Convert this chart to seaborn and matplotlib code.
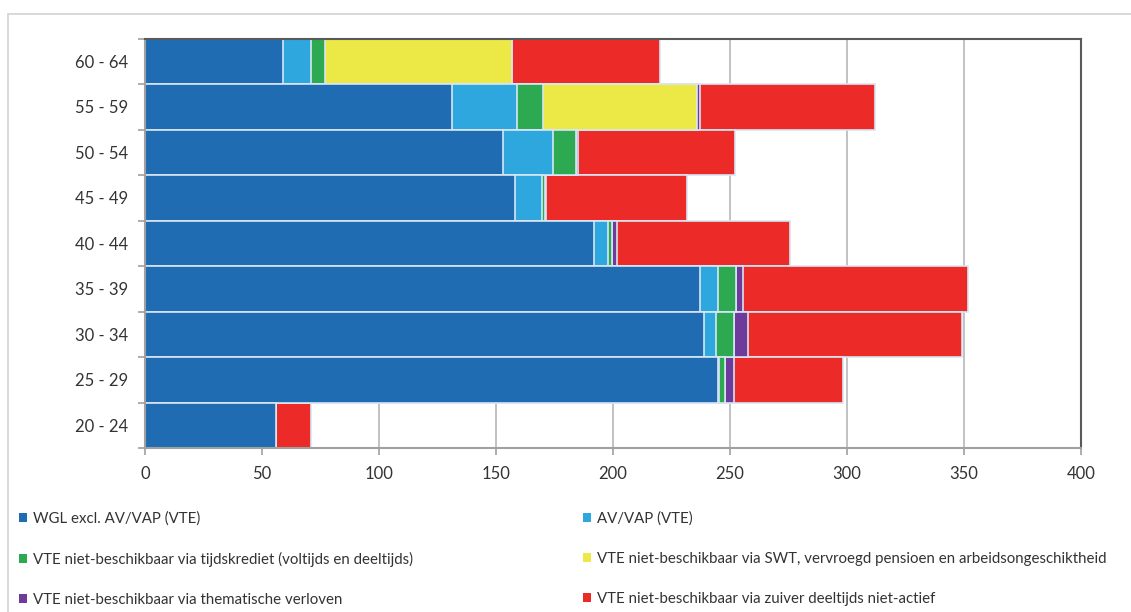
import matplotlib
matplotlib.use("Agg")
import matplotlib.pyplot as plt
import seaborn as sns
import pandas as pd
import numpy as np
from matplotlib.patches import Patch, Rectangle

categories = ["60 - 64", "55 - 59", "50 - 54", "45 - 49", "40 - 44",
              "35 - 39", "30 - 34", "25 - 29", "20 - 24"]
wgl = [59, 131, 153, 158, 192, 237, 239, 245, 56]
av_vap = [12, 28, 21.5, 11.5, 6, 8, 5, 0.5, 0]
tijdskrediet = [6, 11, 9.5, 1.5, 1.5, 7.5, 7.5, 2.5, 0]
swt = [80, 66, 0, 0, 0, 0, 0, 0, 0]
thematisch = [0, 1, 1, 0.5, 2, 3, 6, 3.5, 0]
zuiver = [63, 75, 67, 60, 74, 96, 91.5, 47, 15]

series_labels = [
    "WGL excl. AV/VAP (VTE)",
    "AV/VAP (VTE)",
    "VTE niet-beschikbaar via tijdskrediet (voltijds en deeltijds)",
    "VTE niet-beschikbaar via SWT, vervroegd pensioen en arbeidsongeschiktheid",
    "VTE niet-beschikbaar via thematische verloven",
    "VTE niet-beschikbaar via zuiver deeltijds niet-actief",
]
series_values = [wgl, av_vap, tijdskrediet, swt, thematisch, zuiver]
colors = ["#1F6CB3", "#2EA7DE", "#2CA951", "#ECE845", "#6E3A9B", "#EC2A27"]

sns.set_theme(style="white")
plt.rcParams["font.family"] = ["Lato", "DejaVu Sans"]

df = pd.DataFrame({"cat": categories})
cum = np.zeros(len(categories))
for lab, vals in zip(series_labels, series_values):
    cum = cum + np.array(vals, dtype=float)
    df[lab] = cum.copy()

fig = plt.figure(figsize=(11.31, 6.12), dpi=100)
ax = fig.add_axes([145 / 1131, 1 - 448 / 612, (1081 - 145) / 1131, (448 - 38.5) / 612])

for lab, col in reversed(list(zip(series_labels, colors))):
    sns.barplot(data=df, x=lab, y="cat", order=categories, orient="h",
                color=col, width=1.0, edgecolor="#D8E6F3", linewidth=1.2,
                saturation=1, ax=ax)

ax.set_xlim(0, 400)
ax.set_ylim(8.5, -0.5)
ax.set_xticks(np.arange(0, 401, 50))
ax.set_xlabel("")
ax.set_ylabel("")
ax.set_axisbelow(True)
ax.grid(axis="x", color="#BDBDC2", linewidth=1.3)
ax.grid(axis="y", visible=False)

ax.set_yticks(np.arange(-0.5, 9, 1), minor=True)
ax.tick_params(axis="y", which="major", length=0, pad=12, labelsize=12, labelcolor="#333333")
ax.tick_params(axis="y", which="minor", length=5, width=1.2, color="#A0A0A0", left=True)
ax.tick_params(axis="x", which="major", length=5, width=1.2, color="#A0A0A0", bottom=True,
               labelsize=12, labelcolor="#333333", pad=8)

for side in ["left", "bottom"]:
    ax.spines[side].set_color("#A0A0A0")
    ax.spines[side].set_linewidth(1.5)
for side in ["top", "right"]:
    ax.spines[side].set_color("#5A5A5A")
    ax.spines[side].set_linewidth(1.5)

# outer frame
fig.patches.append(Rectangle((8 / 1131, -0.05), 1.2, 1 - 14 / 612 + 0.05,
                             transform=fig.transFigure, fill=False,
                             edgecolor="#D2D2D2", linewidth=1.2))

handles = [Patch(facecolor=c, edgecolor="none") for c in colors]
leg_font = {"family": ["Lato", "DejaVu Sans"], "size": 10.8}
col1 = [0, 2, 4]
col2 = [1, 3, 5]
for idx, x0 in ((col1, 13), (col2, 577)):
    leg = fig.legend([handles[i] for i in idx], [series_labels[i] for i in idx],
                     loc="upper left", bbox_to_anchor=(x0 / 1131, 1 - 505 / 612),
                     frameon=False, prop=leg_font, handlelength=0.55, handleheight=0.55,
                     handletextpad=0.4, labelspacing=1.75, borderaxespad=0)
    for t in leg.get_texts():
        t.set_color("#333333")

fig.savefig("out.png", dpi=100)
